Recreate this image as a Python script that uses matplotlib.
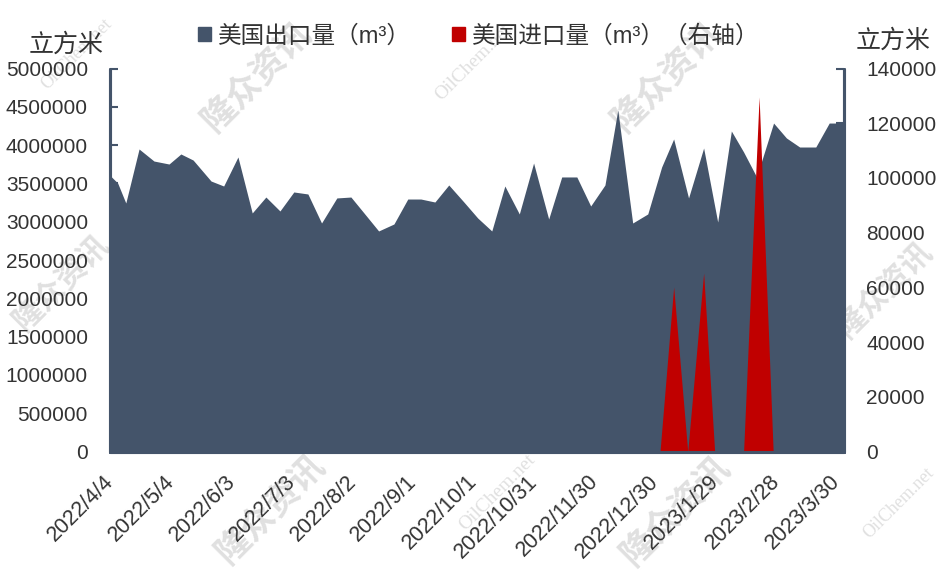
import pandas as pd
import matplotlib
matplotlib.use('Agg')
import matplotlib.pyplot as plt
from matplotlib.patches import Patch
from matplotlib.transforms import ScaledTranslation

plt.rcParams['font.family'] = ['Liberation Sans', 'Noto Sans CJK SC', 'DejaVu Sans']

start = pd.Timestamp('2022-04-04')
tick_dates = ['2022/4/4', '2022/5/4', '2022/6/3', '2022/7/3', '2022/8/2', '2022/9/1', '2022/10/1',
              '2022/10/31', '2022/11/30', '2022/12/30', '2023/1/29', '2023/2/28', '2023/3/30']

# days after 2022/4/4
export_days = [0, 4, 8, 14.5, 21.8, 29.2, 35, 41, 49.8, 56, 63, 70, 76.7, 83.6, 90.4, 97.3, 104, 111.5,
               118.4, 124.8, 132, 139.5, 146.3, 152.7, 159.6, 166.4, 173.8, 180.6, 187.5, 193.9, 201,
               208, 215.4, 221.8, 229.2, 236, 243, 249.3, 256.6, 264, 270.8, 276.7, 284, 291.4, 298.3,
               305, 311, 317.4, 325.7, 332, 338.5, 346.4, 353, 360]
export_vals = [3610, 3505, 3244, 3949, 3792, 3753, 3884, 3805, 3531, 3466, 3845, 3114, 3322, 3140, 3388,
               3362, 2983, 3310, 3322, 3114, 2879, 2970, 3296, 3296, 3257, 3479, 3257, 3048, 2879, 3466,
               3101, 3766, 3035, 3584, 3584, 3205, 3479, 4458, 2983, 3101, 3714, 4080, 3310, 3962, 2996,
               4184, 3910, 3584, 4288, 4093, 3975, 3975, 4288, 4288]
export_vals = [v * 1000 for v in export_vals]

import_days = [270, 276.7, 283.6, 291.4, 296.8, 311, 318.6, 325.5]
import_vals = [0, 60100, 0, 65200, 0, 0, 129600, 0]

left_ticks = list(range(0, 5000001, 500000))
right_ticks = list(range(0, 140001, 20000))

W, H = 940, 577
BLUE = '#44546A'
RED = '#C00000'
TXT = '#333333'


def fx(x):
    return x / W


def fy(y):
    return 1 - y / H


export_x = start + pd.to_timedelta(export_days, unit='D')
import_x = start + pd.to_timedelta(import_days, unit='D')
tick_x = pd.to_datetime(tick_dates, format='%Y/%m/%d')

fig = plt.figure(figsize=(9.4, 5.77), dpi=100)
ax = fig.add_axes([fx(109.5), fy(451.5), (843.5 - 109.5) / W, (451.5 - 68.5) / H])
ax2 = ax.twinx()
ax.patch.set_visible(False)
ax2.patch.set_visible(False)

ax.fill_between(export_x, export_vals, 0, color=BLUE, lw=0)
ax2.fill_between(import_x, import_vals, 0, color=RED, lw=0)

ax.set_xlim(start, start + pd.Timedelta(days=360))
ax.set_ylim(0, 5000000)
ax2.set_ylim(0, 140000)

ax.set_yticks(left_ticks)
ax.set_yticklabels([str(v) for v in left_ticks])
ax2.set_yticks(right_ticks)
ax.set_xticks(tick_x)
ax.set_xticklabels(tick_dates, rotation=45, ha='right', rotation_mode='anchor')

ax.tick_params(axis='y', direction='in', length=5.8, width=1.5, color=BLUE, labelsize=15, labelcolor=TXT, pad=15.5)
ax2.tick_params(axis='y', direction='in', length=5.8, width=1.5, color=BLUE, labelsize=15, labelcolor=TXT, pad=16.5)
ax.tick_params(axis='x', length=0, labelsize=15.5, labelcolor=TXT, pad=14)

# date labels in the picture run a little tighter than the ticks
for i, lab in enumerate(ax.get_xticklabels()):
    dx = (-6 - 8 * i / 12) / 100
    lab.set_transform(lab.get_transform() + ScaledTranslation(dx, 0, fig.dpi_scale_trans))

for a in [ax, ax2]:
    a.spines['top'].set_visible(False)
    for side in ['left', 'right', 'bottom']:
        a.spines[side].set_color(BLUE)
        a.spines[side].set_linewidth(2.2)
        a.spines[side].set_capstyle('round')

fig.text(fx(66), fy(45), '立方米', fontsize=18, color=TXT, ha='center', va='center')
fig.text(fx(893), fy(41), '立方米', fontsize=18, color=TXT, ha='center', va='center')

handles = [Patch(color=BLUE, label='美国出口量（m³）'), Patch(color=RED, label='美国进口量（m³）（右轴）')]
fig.legend(handles=handles, loc='center', bbox_to_anchor=(fx(479), fy(36)), ncol=2, frameon=False,
           fontsize=17, labelcolor=TXT, handlelength=0.55, handleheight=0.55, handletextpad=0.28,
           columnspacing=1.75, borderpad=0, borderaxespad=0)

# watermarks sit behind the plot
for x, y, size in [(258, 78, 25), (668, 78, 25), (62, 283, 22), (885, 290, 22), (272, 510, 25), (677, 512, 25)]:
    fig.text(fx(x), fy(y), '隆众资讯', fontsize=size, fontweight='bold', color='#999999', alpha=0.3,
             rotation=45, ha='center', va='center', zorder=-1)
for x, y, size in [(77, 54, 13), (473, 62, 14), (497, 492, 14), (899, 503, 13)]:
    fig.text(fx(x), fy(y), 'OilChem.net', fontsize=size, family='Liberation Serif', color='#999999', alpha=0.3,
             rotation=45, ha='center', va='center', zorder=-1)

fig.savefig('out.png', dpi=100)
